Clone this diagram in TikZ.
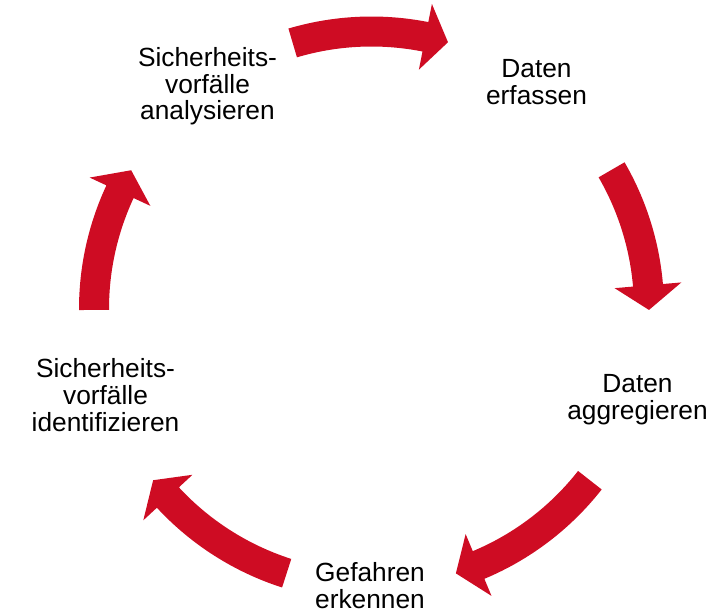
\documentclass[tikz,border=0pt]{standalone}
\usepackage{fontspec}
\setmainfont{Liberation Sans}
\definecolor{arrowred}{RGB}{206,12,35}
\newcommand\cycarrow[3]{%
  \fill[arrowred] (#1:292.5pt) arc[start angle=#1, end angle=#2, radius=292.5pt]
    -- (#2:311pt) -- (#3:277.5pt) -- (#2:244pt) -- (#2:262.5pt)
    arc[start angle=#2, end angle=#1, radius=262.5pt] -- cycle;}
\begin{document}
\begin{tikzpicture}[x=1pt,y=1pt,
  steplabel/.style={anchor=north, inner sep=0pt, align=center,
    font=\fontsize{26.3}{26.8}\selectfont}]
\useasboundingbox (0,0) rectangle (726,614);
\begin{scope}[shift={(371.5,305)}]
  \cycarrow{106.5}{78.8}{74.0}
  \cycarrow{30.1}{4.9}{-0.2}
  \cycarrow{-38.1}{-67.3}{-72.3}
  \cycarrow{-107.8}{-137.2}{-141.9}
  \cycarrow{180.2}{155.0}{150.0}
\end{scope}
\node[steplabel] (analyse) at (207.5,567) {Sicherheits-\\vorfälle\\analysieren};
\node[steplabel] (erfassen) at (536.5,554.7) {Daten\\erfassen};
\node[steplabel] (aggreg) at (637.5,239.7) {Daten\\aggregieren};
\node[steplabel] (erkennen) at (370,52) {Gefahren\\erkennen};
\node[steplabel] (ident) at (105.5,255.7) {Sicherheits-\\vorfälle\\identifizieren};
\end{tikzpicture}
\end{document}
